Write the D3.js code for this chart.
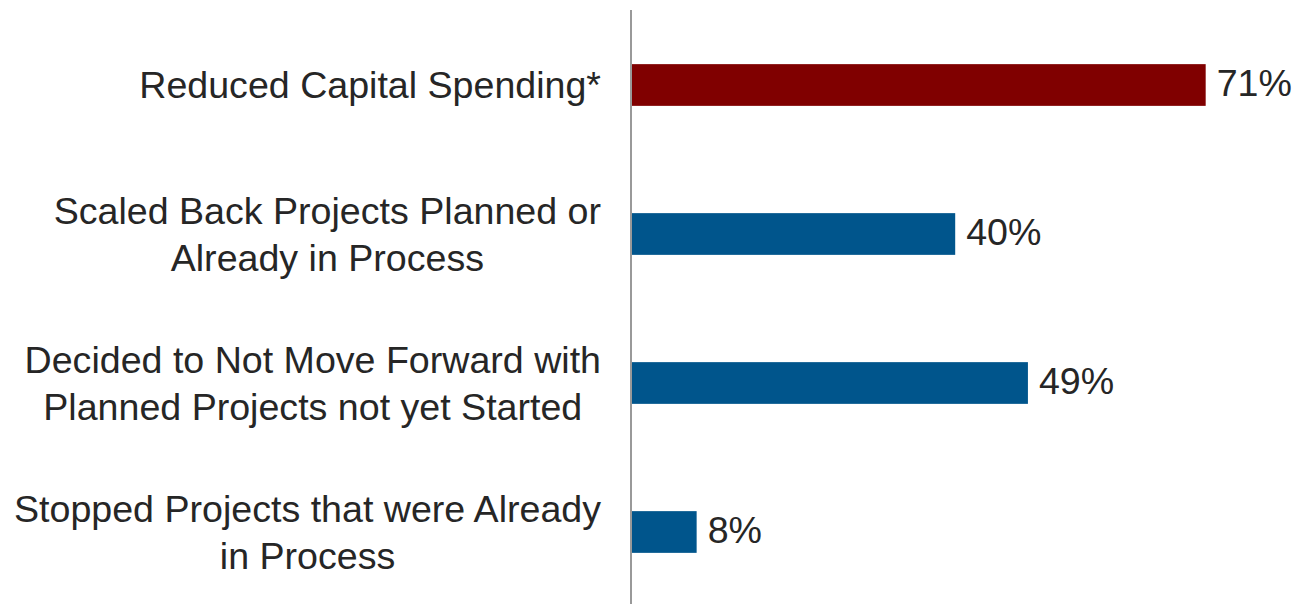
<!DOCTYPE html>
<html>
<head>
<meta charset="utf-8">
<script src="https://cdn.jsdelivr.net/npm/d3@7"></script>
<style>
  html, body { margin: 0; padding: 0; background: #fff; }
  svg { display: block; }
  text { font-family: "Liberation Sans", Arial, sans-serif; fill: #262626; }
</style>
</head>
<body>
<svg id="chart" width="1298" height="604"></svg>
<script>
const categories = [
  ["Reduced Capital Spending*"],
  ["Scaled Back Projects Planned or", "Already in Process"],
  ["Decided to Not Move Forward with", "Planned Projects not yet Started"],
  ["Stopped Projects that were Already", "in Process"]
];
const values = [71, 40, 49, 8];
const barColors = ["#800000", "#00558c", "#00558c", "#00558c"];

const W = 1298, H = 604;
const svg = d3.select("#chart");
const fontSize = 37.6;
const lineH = 47;

const x = d3.scaleLinear().domain([0, 100]).range([632, 1440]);
const y = d3.scaleBand().domain(d3.range(categories.length))
  .range([10.5, 606.5]).paddingInner(0.72).paddingOuter(0.36);

// bars
svg.selectAll("rect.bar").data(values).join("rect")
  .attr("class", "bar")
  .attr("x", x(0))
  .attr("y", (d, i) => y(i))
  .attr("width", d => x(d) - x(0))
  .attr("height", y.bandwidth())
  .attr("fill", (d, i) => barColors[i]);

// axis line
svg.append("line")
  .attr("x1", 631).attr("x2", 631)
  .attr("y1", 10).attr("y2", H)
  .attr("stroke", "#999").attr("stroke-width", 2);

// value labels
svg.selectAll("text.val").data(values).join("text")
  .attr("class", "val")
  .attr("x", d => x(d) + 11)
  .attr("y", (d, i) => y(i) + y.bandwidth() / 2)
  .attr("dy", "0.3em")
  .attr("font-size", fontSize)
  .text(d => d + "%");

// category labels (centered block, right edge at 601)
const rightEdge = 601;
categories.forEach((lines, i) => {
  const cy = y(i) + y.bandwidth() / 2;
  const g = svg.append("text")
    .attr("font-size", fontSize)
    .attr("text-anchor", "middle");
  const tspans = lines.map((ln, j) => g.append("tspan")
    .attr("y", cy + (j - (lines.length - 1) / 2) * lineH)
    .attr("dy", "0.35em")
    .text(ln));
  const maxW = d3.max(tspans, t => t.node().getComputedTextLength());
  tspans.forEach(t => t.attr("x", rightEdge - maxW / 2));
});
</script>
</body>
</html>
